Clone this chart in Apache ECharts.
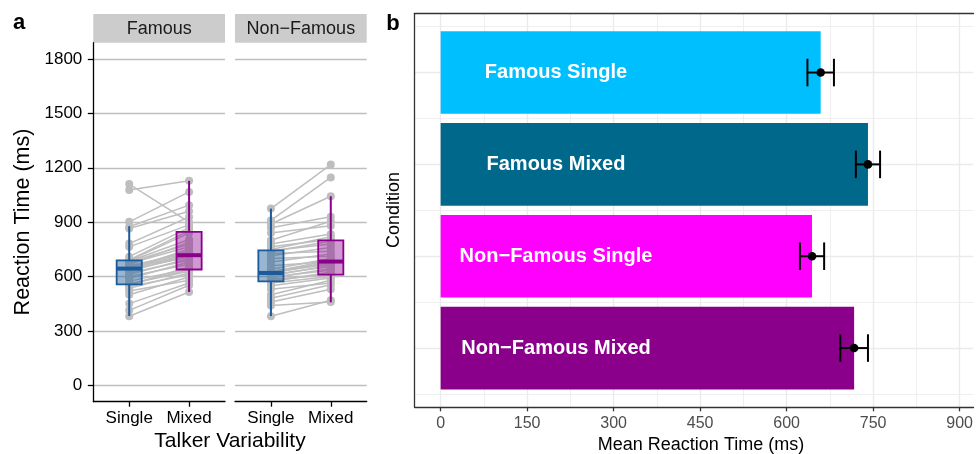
<!DOCTYPE html>
<html>
<head>
<meta charset="utf-8">
<script src="https://cdn.jsdelivr.net/npm/echarts@6/dist/echarts.min.js"></script>
<style>
  html, body { margin: 0; padding: 0; background: #fff; }
  #chart { width: 976px; height: 454px; }
</style>
</head>
<body>
<div id="chart"></div>
<script>
const FACETS = ['Famous', 'Non\u2212Famous'];
const TALKER = ['Single', 'Mixed'];
const RT_TICKS = [0, 300, 600, 900, 1200, 1500, 1800];

// per-subject RT, same subject order in Single and Mixed
const FAMOUS_SINGLE = [381, 414, 451, 500, 520, 535, 545, 552, 557, 560, 575, 590, 600, 612, 620, 630, 638, 642, 646, 650, 655, 660, 665, 672, 680, 685, 688, 692, 710, 764, 782, 865, 875, 902, 1077, 1110];
const FAMOUS_MIXED = [515, 552, 565, 598, 580, 620, 610, 655, 638, 630, 642, 680, 668, 700, 690, 719, 708, 752, 715, 723, 740, 730, 790, 765, 778, 805, 840, 852, 870, 885, 929, 960, 994, 1067, 1128, 900];
const NONFAMOUS_SINGLE = [381, 440, 460, 480, 500, 530, 550, 565, 572, 578, 585, 592, 598, 605, 612, 618, 622, 625, 628, 640, 660, 680, 700, 715, 728, 738, 742, 750, 765, 780, 800, 840, 870, 890, 910, 975];
const NONFAMOUS_MIXED = [470, 460, 530, 555, 580, 565, 592, 600, 625, 616, 610, 645, 635, 662, 655, 680, 670, 690, 676, 700, 683, 725, 712, 760, 740, 795, 780, 820, 805, 835, 905, 880, 930, 1043, 1147, 1218];

// boxplot stats: [lower whisker, Q1, median, Q3, upper whisker]
const FAMOUS_BOX = [[383, 557, 644, 690, 878], [515, 639, 718, 847, 1128]];
const NONFAMOUS_BOX = [[382, 574, 620, 745, 975], [458, 611, 683, 800, 1043]];

const CONDITIONS = ['Famous Single', 'Famous Mixed', 'Non\u2212Famous Single', 'Non\u2212Famous Mixed'];
const MEAN_RT = [659, 741, 644, 717];
const SE_RT = [23, 21, 21, 24];
const MEAN_TICKS = [0, 150, 300, 450, 600, 750, 900];
const MEAN_MINOR = [75, 225, 375, 525, 675, 825];
const COND_TICKS = [1, 2, 3, 4];
const COND_MINOR = [0.5, 1.5, 2.5, 3.5, 4.5];

const FONT = '"Liberation Sans", Arial, sans-serif';
const BOX_LINE = ['#1B5A9B', '#8B008B'];
const BOX_FILL = ['rgba(27,90,155,0.45)', 'rgba(139,0,139,0.4)'];
const BAR_COLORS = ['#00BFFF', '#00688B', '#FF00FF', '#8B008B'];
const BOX_WIDTH = 0.42;
const BAR_HALF = 0.45;
const CAP_HALF = 0.15;
const LABEL_AT = 200;

function renderBox(params, api) {
  const x = api.value(0);
  const k = params.dataIndex;
  const [lo, q1, md, q3, hi] = [1, 2, 3, 4, 5].map(d => api.coord([x, api.value(d)]));
  const half = api.size([BOX_WIDTH, 0])[0] / 2;
  const stroke = BOX_LINE[k];
  return {
    type: 'group',
    children: [
      { type: 'line', shape: { x1: lo[0], y1: lo[1], x2: q1[0], y2: q1[1] }, style: { stroke, lineWidth: 2 } },
      { type: 'line', shape: { x1: q3[0], y1: q3[1], x2: hi[0], y2: hi[1] }, style: { stroke, lineWidth: 2 } },
      { type: 'rect', shape: { x: q3[0] - half, y: q3[1], width: half * 2, height: q1[1] - q3[1] },
        style: { fill: BOX_FILL[k], stroke, lineWidth: 1.8 } },
      { type: 'line', shape: { x1: md[0] - half, y1: md[1], x2: md[0] + half, y2: md[1] }, style: { stroke, lineWidth: 4 } },
    ],
  };
}

function facetSeries(index, single, mixed, box) {
  return [
    {
      type: 'lines', coordinateSystem: 'cartesian2d', xAxisIndex: index, yAxisIndex: index,
      z: 1, silent: true,
      lineStyle: { color: '#BEBEBE', width: 1.5, opacity: 1 },
      data: single.map((v, i) => ({ coords: [[1, v], [2, mixed[i]]] })),
    },
    {
      type: 'scatter', xAxisIndex: index, yAxisIndex: index, z: 2, symbolSize: 8,
      itemStyle: { color: '#BEBEBE', opacity: 1 },
      data: single.map(v => [1, v]).concat(mixed.map(v => [2, v])),
    },
    {
      type: 'custom', xAxisIndex: index, yAxisIndex: index, z: 3,
      renderItem: renderBox,
      data: box.map((s, i) => [i + 1].concat(s)),
    },
  ];
}

function renderBar(params, api) {
  const v = api.value(0);
  const pos = api.value(1);
  const a = api.coord([0, pos - BAR_HALF]);
  const b = api.coord([v, pos + BAR_HALF]);
  const label = api.coord([LABEL_AT, pos]);
  return {
    type: 'group',
    children: [
      { type: 'rect', shape: { x: a[0], y: Math.min(a[1], b[1]), width: b[0] - a[0], height: Math.abs(b[1] - a[1]) },
        style: { fill: BAR_COLORS[params.dataIndex] } },
      { type: 'text', x: label[0], y: label[1],
        style: { text: CONDITIONS[params.dataIndex], fill: '#fff', font: 'bold 20px ' + FONT, align: 'center', verticalAlign: 'middle' } },
    ],
  };
}

function renderError(params, api) {
  const m = api.value(0);
  const se = api.value(1);
  const pos = api.value(2);
  const left = api.coord([m - se, pos]);
  const right = api.coord([m + se, pos]);
  const mid = api.coord([m, pos]);
  const cap = api.size([0, CAP_HALF])[1];
  const line = { stroke: '#000', lineWidth: 2 };
  return {
    type: 'group',
    children: [
      { type: 'line', shape: { x1: left[0], y1: left[1], x2: right[0], y2: right[1] }, style: line },
      { type: 'line', shape: { x1: left[0], y1: left[1] - cap, x2: left[0], y2: left[1] + cap }, style: line },
      { type: 'line', shape: { x1: right[0], y1: right[1] - cap, x2: right[0], y2: right[1] + cap }, style: line },
      { type: 'circle', shape: { cx: mid[0], cy: mid[1], r: 4.3 }, style: { fill: '#000' } },
    ],
  };
}

function facetX(index) {
  return {
    type: 'value', gridIndex: index, min: 0.4, max: 2.6,
    axisLine: { show: true, onZero: false, lineStyle: { color: '#000', width: 1.3 } },
    axisTick: { show: true, length: 5, customValues: [1, 2], lineStyle: { color: '#000', width: 1.3 } },
    axisLabel: { customValues: [1, 2], formatter: v => TALKER[v - 1], color: '#000', fontSize: 17, fontFamily: FONT, margin: 8 },
    splitLine: { show: false },
  };
}

function facetY(index) {
  const first = index === 0;
  return {
    type: 'value', gridIndex: index, min: -90, max: 1890,
    axisLine: { show: first, onZero: false, lineStyle: { color: '#000', width: 1.3 } },
    axisTick: { show: first, length: 5.5, customValues: RT_TICKS, lineStyle: { color: '#000', width: 1.3 } },
    axisLabel: { show: first, customValues: RT_TICKS, formatter: v => String(v), color: '#000', fontSize: 17, fontFamily: FONT, margin: 11 },
    splitLine: { show: true, lineStyle: { color: '#BEBEBE', width: 1.3 } },
  };
}

function strip(left, text) {
  return [
    { type: 'rect', x: left, y: 14, shape: { width: 131.7, height: 28.7 }, style: { fill: '#CCCCCC' } },
    { type: 'text', x: left + 65.85, y: 29, style: { text, font: '18px ' + FONT, fill: '#1A1A1A', align: 'center', verticalAlign: 'middle' } },
  ];
}

function label(x, y, text, font, opts) {
  return Object.assign({
    type: 'text', x, y,
    style: { text, font: font + ' ' + FONT, fill: '#000', align: 'center', verticalAlign: 'middle' },
  }, opts || {});
}

const chart = echarts.init(document.getElementById('chart'));
chart.setOption({
  animation: false,
  backgroundColor: '#fff',
  grid: [
    { left: 93.3, top: 42.7, width: 131.7, height: 359 },
    { left: 235, top: 42.7, width: 131.7, height: 359 },
    // panel b runs past the right edge of the picture, so its right border is not drawn
    { left: 414.7, top: 13.3, right: 0, height: 394 },
  ],
  xAxis: [
    facetX(0),
    facetX(1),
    {
      type: 'value', gridIndex: 2, min: -45, max: 924,
      axisLine: { show: true, onZero: false, lineStyle: { color: '#333', width: 1.3 } },
      axisTick: { show: true, length: 4, customValues: MEAN_TICKS, lineStyle: { color: '#333', width: 1.3 } },
      axisLabel: { customValues: MEAN_TICKS, color: '#4D4D4D', fontSize: 16, fontFamily: FONT, margin: 8 },
      splitLine: { show: true, lineStyle: { color: '#EBEBEB', width: 1.4 } },
    },
    {
      type: 'value', gridIndex: 2, min: -45, max: 924, position: 'top',
      axisLine: { show: true, onZero: false, lineStyle: { color: '#333', width: 1.3 } },
      axisTick: { show: false, customValues: MEAN_MINOR },
      axisLabel: { show: false, customValues: MEAN_MINOR },
      splitLine: { show: true, lineStyle: { color: '#EBEBEB', width: 0.8 } },
    },
  ],
  yAxis: [
    facetY(0),
    facetY(1),
    {
      type: 'value', gridIndex: 2, min: 0.355, max: 4.645, inverse: true, position: 'left',
      axisLine: { show: true, onZero: false, lineStyle: { color: '#333', width: 1.3 } },
      axisTick: { show: false, customValues: COND_TICKS },
      axisLabel: { show: false, customValues: COND_TICKS },
      splitLine: { show: true, lineStyle: { color: '#EBEBEB', width: 1.4 } },
    },
    {
      type: 'value', gridIndex: 2, min: 0.355, max: 4.645, inverse: true, position: 'right',
      axisLine: { show: false },
      axisTick: { show: false, customValues: COND_MINOR },
      axisLabel: { show: false, customValues: COND_MINOR },
      splitLine: { show: true, lineStyle: { color: '#EBEBEB', width: 0.8 } },
    },
  ],
  series: [
    ...facetSeries(0, FAMOUS_SINGLE, FAMOUS_MIXED, FAMOUS_BOX),
    ...facetSeries(1, NONFAMOUS_SINGLE, NONFAMOUS_MIXED, NONFAMOUS_BOX),
    {
      type: 'custom', xAxisIndex: 2, yAxisIndex: 2, z: 3,
      renderItem: renderBar,
      data: MEAN_RT.map((v, i) => [v, i + 1]),
    },
    {
      type: 'custom', xAxisIndex: 2, yAxisIndex: 2, z: 4,
      renderItem: renderError,
      encode: { x: 0, y: 2 },
      data: MEAN_RT.map((v, i) => [v, SE_RT[i], i + 1]),
    },
  ],
  graphic: [
    label(19, 23, 'a', 'bold 22px'),
    label(393, 24, 'b', 'bold 22px'),
    ...strip(93.3, FACETS[0]),
    ...strip(235, FACETS[1]),
    label(23, 222, 'Reaction Time (ms)', '21.5px', { rotation: Math.PI / 2 }),
    label(230, 441, 'Talker Variability', '21px'),
    label(394, 210, 'Condition', '18px', { rotation: Math.PI / 2 }),
    label(701, 445, 'Mean Reaction Time (ms)', '18px'),
  ],
});
</script>
</body>
</html>
